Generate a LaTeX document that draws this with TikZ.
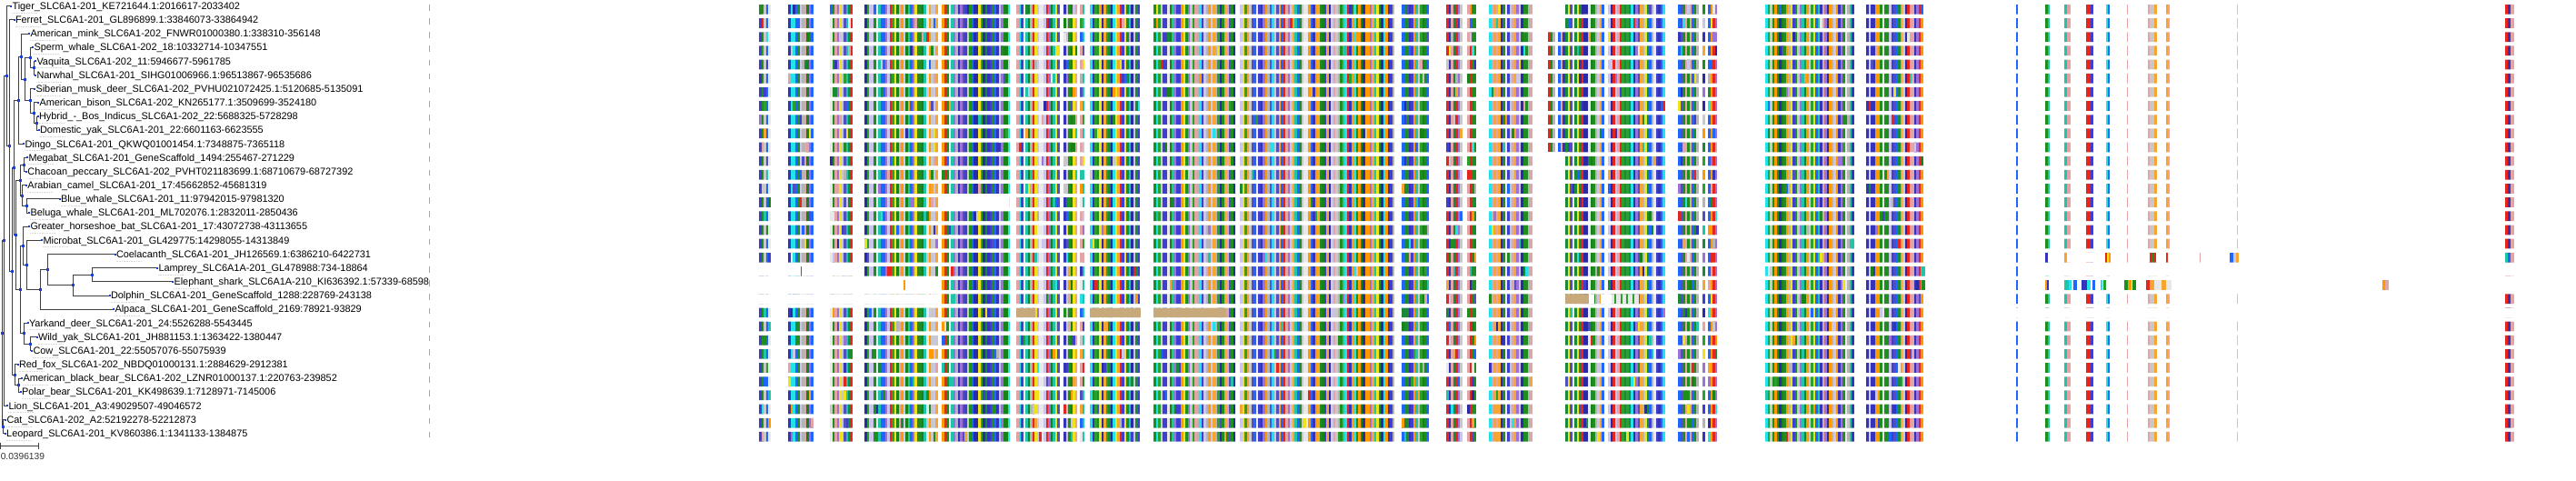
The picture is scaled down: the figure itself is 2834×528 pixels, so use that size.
\documentclass[tikz,border=0pt]{standalone}
\usepackage{fontspec}
\setmainfont{Liberation Sans}
\usetikzlibrary{arrows.meta}
\definecolor{dotblue}{HTML}{1C3FD6}
\definecolor{treec}{HTML}{404040}
\definecolor{tanc}{HTML}{C7A97C}
\definecolor{al1}{HTML}{228B22}
\definecolor{al2}{HTML}{1E8F1E}
\definecolor{al3}{HTML}{2CA02C}
\definecolor{al4}{HTML}{178217}
\definecolor{al5}{HTML}{3434B8}
\definecolor{al6}{HTML}{3F3FCF}
\definecolor{al7}{HTML}{2A2AA5}
\definecolor{al8}{HTML}{1F66FF}
\definecolor{al9}{HTML}{C8C8C8}
\definecolor{al10}{HTML}{B4B4B4}
\definecolor{al11}{HTML}{FF9900}
\definecolor{al12}{HTML}{F7A531}
\definecolor{al13}{HTML}{E4261E}
\definecolor{al14}{HTML}{EFE21A}
\definecolor{al15}{HTML}{24E2EA}
\definecolor{al16}{HTML}{20C4A8}
\definecolor{al17}{HTML}{9C72D8}
\definecolor{al18}{HTML}{E2A4A4}
\definecolor{al19}{HTML}{CBC4EB}
\definecolor{al20}{HTML}{E8E8E8}
\definecolor{al21}{HTML}{1A8A3A}
\definecolor{al22}{HTML}{4F4FC0}
% alignment blocks (pixel columns)
\def\alblocks{835/847, 867/894, 913/937, 951/1016, 1019/1030, 1036/1110,
  1118/1163, 1170/1183, 1188/1192, 1199/1253, 1269/1357, 1364/1532,
  1542/1571, 1591/1608, 1614/1623, 1638/1684, 1722/1763, 1769/1830,
  1846/1867, 1873/1875, 1879/1887, 1942/2038, 2053/2114}
% one row of the alignment: row, x from, x to, colour
\newcommand\alrow[4]{\fill[#4] (#2,{5+15.16*(#1-1)}) rectangle (#3,{15.7+15.16*(#1-1)});}

\begin{document}
\begin{tikzpicture}[x=1pt, y=-1pt, >=Stealth,
      font=\fontsize{10.9}{12}\selectfont,
      branch/.style={draw=treec, line width=0.9pt},
      lab/.style={anchor=base west, inner sep=0pt},
      ldot/.style={fill=dotblue, inner sep=0pt, minimum size=2pt},
      ndot/.style={fill=dotblue, inner sep=0pt, minimum size=3pt},
      uline/.style={draw=gray!30, line width=0.6pt, densely dotted},
      tick/.style={draw=gray!70, line width=0.8pt}]
    \useasboundingbox (0,0) rectangle (2834,528);

    % leaves and their labels
    \foreach \n/\i/\lx/\t in {
      tiger/1/12/{Tiger\_SLC6A1-201\_KE721644.1:2016617-2033402},
      ferret/2/15.5/{Ferret\_SLC6A1-201\_GL896899.1:33846073-33864942},
      mink/3/32/{American\_mink\_SLC6A1-202\_FNWR01000380.1:338310-356148},
      sperm/4/36/{Sperm\_whale\_SLC6A1-202\_18:10332714-10347551},
      vaquita/5/39/{Vaquita\_SLC6A1-202\_11:5946677-5961785},
      narwhal/6/39/{Narwhal\_SLC6A1-201\_SIHG01006966.1:96513867-96535686},
      musk/7/38/{Siberian\_musk\_deer\_SLC6A1-202\_PVHU021072425.1:5120685-5135091},
      bison/8/42/{American\_bison\_SLC6A1-202\_KN265177.1:3509699-3524180},
      hybrid/9/41.5/{Hybrid\_-\_Bos\_Indicus\_SLC6A1-202\_22:5688325-5728298},
      dyak/10/42.5/{Domestic\_yak\_SLC6A1-201\_22:6601163-6623555},
      dingo/11/26/{Dingo\_SLC6A1-201\_QKWQ01001454.1:7348875-7365118},
      megabat/12/30/{Megabat\_SLC6A1-201\_GeneScaffold\_1494:255467-271229},
      peccary/13/29/{Chacoan\_peccary\_SLC6A1-202\_PVHT021183699.1:68710679-68727392},
      camel/14/29/{Arabian\_camel\_SLC6A1-201\_17:45662852-45681319},
      bwhale/15/65.5/{Blue\_whale\_SLC6A1-201\_11:97942015-97981320},
      beluga/16/32/{Beluga\_whale\_SLC6A1-201\_ML702076.1:2832011-2850436},
      horseshoe/17/32/{Greater\_horseshoe\_bat\_SLC6A1-201\_17:43072738-43113655},
      microbat/18/46/{Microbat\_SLC6A1-201\_GL429775:14298055-14313849},
      coel/19/126.5/{Coelacanth\_SLC6A1-201\_JH126569.1:6386210-6422731},
      lamprey/20/173/{Lamprey\_SLC6A1A-201\_GL478988:734-18864},
      eshark/21/190/{Elephant\_shark\_SLC6A1A-210\_KI636392.1:57339-68598},
      dolphin/22/120.5/{Dolphin\_SLC6A1-201\_GeneScaffold\_1288:228769-243138},
      alpaca/23/125/{Alpaca\_SLC6A1-201\_GeneScaffold\_2169:78921-93829},
      yarkand/24/30.5/{Yarkand\_deer\_SLC6A1-201\_24:5526288-5543445},
      wyak/25/40.5/{Wild\_yak\_SLC6A1-201\_JH881153.1:1363422-1380447},
      cow/26/35/{Cow\_SLC6A1-201\_22:55057076-55075939},
      fox/27/19.5/{Red\_fox\_SLC6A1-202\_NBDQ01000131.1:2884629-2912381},
      bbear/28/24/{American\_black\_bear\_SLC6A1-202\_LZNR01000137.1:220763-239852},
      pbear/29/22.5/{Polar\_bear\_SLC6A1-201\_KK498639.1:7128971-7145006},
      lion/30/8/{Lion\_SLC6A1-201\_A3:49029507-49046572},
      cat/31/6/{Cat\_SLC6A1-202\_A2:52192278-52212873},
      leopard/32/5.7/{Leopard\_SLC6A1-201\_KV860386.1:1341133-1384875}}{
      \coordinate (\n) at (\lx,{6.7+15.16*(\i-1)});
      \node[lab] (\n-lab) at ({\lx+1.3},{10.4+15.16*(\i-1)}) {\t};
      \draw[uline] ({\lx+1},{14+15.16*(\i-1)}) -- ++(28,0);
      \draw[tick] (472,{5+15.16*(\i-1)}) -- ++(0,6.5);
    }

    % internal nodes of the tree
    \coordinate (R) at (2.5,366.97);
    \coordinate (CL) at (3.5,469.08);
    \coordinate (Q) at (4.5,264.86);
    \coordinate (T) at (7,83.38);
    \coordinate (F) at (10.5,160.06);
    \coordinate (G) at (13,298.26);
    \coordinate (P) at (15,184.28);
    \coordinate (FB) at (16,412.23);
    \coordinate (BP) at (20,423.6);
    \coordinate (S) at (17,258.33);
    \coordinate (D) at (20,110.22);
    \coordinate (M) at (23.5,62.13);
    \coordinate (WB) at (27,87.24);
    \coordinate (SW) at (33,63.55);
    \coordinate (VN) at (37,74.92);
    \coordinate (SBHY) at (33,110.93);
    \coordinate (BHY) at (37,124.19);
    \coordinate (HY) at (40,135.56);
    \coordinate (MPC) at (22,198.1);
    \coordinate (MP) at (26,181.04);
    \coordinate (CBB) at (24.5,215.15);
    \coordinate (BB) at (29,226.52);
    \coordinate (GY) at (22,318.55);
    \coordinate (GMCA) at (25,270.35);
    \coordinate (MCA) at (29.5,291.43);
    \coordinate (CA) at (44,318.43);
    \coordinate (CLED) at (52,296.64);
    \coordinate (LED) at (80,313.69);
    \coordinate (LE) at (101,302.32);
    \coordinate (YWC) at (26.5,366.75);
    \coordinate (WC) at (33,378.12);

    \foreach \p/\c in {R/Q, R/CL, CL/cat, CL/leopard, Q/T, Q/lion, T/tiger, T/F,
        F/ferret, F/G, G/P, G/FB, FB/fox, FB/BP, BP/bbear, BP/pbear, P/D, P/S,
        D/M, D/dingo, M/mink, M/WB, WB/SW, WB/SBHY, SW/sperm, SW/VN,
        VN/vaquita, VN/narwhal, SBHY/musk, SBHY/BHY, BHY/bison, BHY/HY,
        HY/hybrid, HY/dyak, S/MPC, S/GY, MPC/MP, MPC/CBB, MP/megabat,
        MP/peccary, CBB/camel, CBB/BB, BB/bwhale, BB/beluga, GY/GMCA, GY/YWC,
        GMCA/horseshoe, GMCA/MCA, MCA/microbat, MCA/CA, CA/CLED, CA/alpaca,
        CLED/coel, CLED/LED, LED/LE, LED/dolphin, LE/lamprey, LE/eshark,
        YWC/yarkand, YWC/WC, WC/wyak, WC/cow}
      \draw[branch] (\p) |- (\c);

    \foreach \p in {R, CL, Q, T, F, G, P, FB, BP, S, D, M, WB, SW, VN, SBHY,
        BHY, HY, MPC, MP, CBB, BB, GY, GMCA, MCA, CA, CLED, LED, LE, YWC, WC}
      \node[ndot] at (\p) {};
    \foreach \n in {tiger, ferret, mink, sperm, vaquita, narwhal, musk, bison,
        hybrid, dyak, dingo, megabat, peccary, camel, bwhale, beluga, horseshoe,
        microbat, coel, lamprey, eshark, dolphin, alpaca, yarkand, wyak, cow,
        fox, bbear, pbear, lion, cat, leopard}
      \node[ldot] at (\n) {};

    % scale bar
    \draw[branch] (0.7,490) -- (42.7,490);
    \draw[branch] (0.7,486.5) -- (0.7,493.5);
    \draw[branch] (42.7,486.5) -- (42.7,493.5);
    \node[lab, font=\fontsize{10.2}{12}\selectfont, text=black!80] (scale) at (0.6,505.5) {0.0396139};

    % alignment
    \begin{scope}
      \clip \foreach \r in {0,...,31} { (825,{5+15.16*\r}) rectangle (2834,{15.7+15.16*\r}) };
      \pgfmathsetseed{2417}
      \foreach \xa/\xb in \alblocks {
        \pgfmathtruncatemacro\nc{(\xb-\xa)/2.5}
        \foreach \c in {0,...,\nc} {
          \pgfmathrandominteger\k{1}{22}
          \fill[al\k] ({\xa+2.5*\c},0) rectangle ++(2.6,500);
        }
      }
      % sparse columns at the right
      \foreach \xa/\xb/\cl in {2217.5/2219.5/al8, 2250/2253/al2, 2253/2255/al16,
          2271/2274/al16, 2274/2278/al18, 2295/2300/al13, 2300/2303/al6,
          2317/2319/al15, 2319/2320.5/al8, 2339.5/2340.8/al18, 2363/2365/al18,
          2365/2370/al9, 2370/2373/al12, 2383/2385/al12, 2385/2387/al18,
          2460.5/2461.5/al9, 2756/2759/al13, 2759/2762/al5, 2762/2766/al18}{
        \fill[\cl] (\xa,0) rectangle (\xb,500);
      }
      % row to row differences
      \foreach \r in {1,...,32} {
        \foreach \xa/\xb in \alblocks {
          \pgfmathtruncatemacro\nc{(\xb-\xa)/2.5}
          \pgfmathrandominteger\cc{0}{\nc}
          \pgfmathrandominteger\k{1}{22}
          \alrow{\r}{\xa+2.5*\cc}{\xa+2.5*\cc+2.6}{al\k}
        }
      }
      % short block in rows 3 to 11
      \foreach \r in {3,...,11} {
        \alrow{\r}{1703}{1705.5}{al13}
        \alrow{\r}{1705.5}{1708}{al2}
        \alrow{\r}{1708}{1710.5}{al10}
        \alrow{\r}{1714}{1716.5}{al8}
        \alrow{\r}{1716.5}{1719}{al18}
        \alrow{\r}{1719}{1722}{al5}
      }
      % Blue whale
      \alrow{15}{1035}{1111}{white}
      \alrow{15}{1109.5}{1110.5}{al20}
      % Coelacanth
      \alrow{19}{2200}{2834}{white}
      \foreach \xa/\xb/\cl in {2217.5/2219.5/al8, 2250/2253/al5, 2271/2274/al12,
          2316/2318/al13, 2318/2320/al14, 2320/2322/al11, 2339.5/2340.8/al18,
          2365/2367/al13, 2367/2370/al2, 2370/2372/al13, 2383/2384.5/al13,
          2420/2421/al18, 2453/2457/al8, 2457/2460/al19, 2460/2463/al12,
          2756/2759/al16, 2759/2762/al8, 2762/2766/al18}{
        \alrow{19}{\xa}{\xb}{\cl}
      }
      % Lamprey
      \alrow{20}{825}{950}{white}
      \alrow{20}{880.5}{882}{al13}
      \alrow{20}{2114}{2118}{al16}
      \alrow{20}{2200}{2834}{white}
      \alrow{20}{2217.5}{2219.5}{al8}
      % Elephant shark
      \alrow{21}{825}{1035}{white}
      \alrow{21}{994}{995.5}{al11}
      \alrow{21}{2114}{2118}{al2}
      \alrow{21}{2200}{2834}{white}
      \foreach \xa/\xb/\cl in {2217.5/2219.5/al8, 2250/2252/al11, 2252/2254/al5,
          2271/2276/al16, 2276/2279/al15, 2281/2285/al8, 2290/2296/al5,
          2296/2300/al15, 2302/2305/al8, 2311/2313/al15, 2314/2317/al3,
          2337/2341/al2, 2341/2345/al11, 2346/2350/al2, 2361/2365/al13,
          2365/2370/al12, 2370/2378/al20, 2378/2383/al12, 2383/2389/al20,
          2621/2624/al11, 2624/2628/al18}{
        \alrow{21}{\xa}{\xb}{\cl}
      }
      % Dolphin
      \alrow{22}{825}{1035}{white}
      \alrow{22}{1722}{1748}{tanc}
      \alrow{22}{1748}{1754}{white}
      \alrow{22}{1761}{1773}{white}
      \alrow{22}{1773}{1803}{al20}
      \foreach \xa in {1776, 1783, 1789, 1796}{
        \alrow{22}{\xa}{\xa+2}{al3}
      }
      % Alpaca
      \alrow{23}{1118}{1139}{tanc}
      \alrow{23}{1199}{1255}{tanc}
      \alrow{23}{1269}{1349}{tanc}
      \alrow{23}{2200}{2834}{white}
    \end{scope}
  \end{tikzpicture}
\end{document}
